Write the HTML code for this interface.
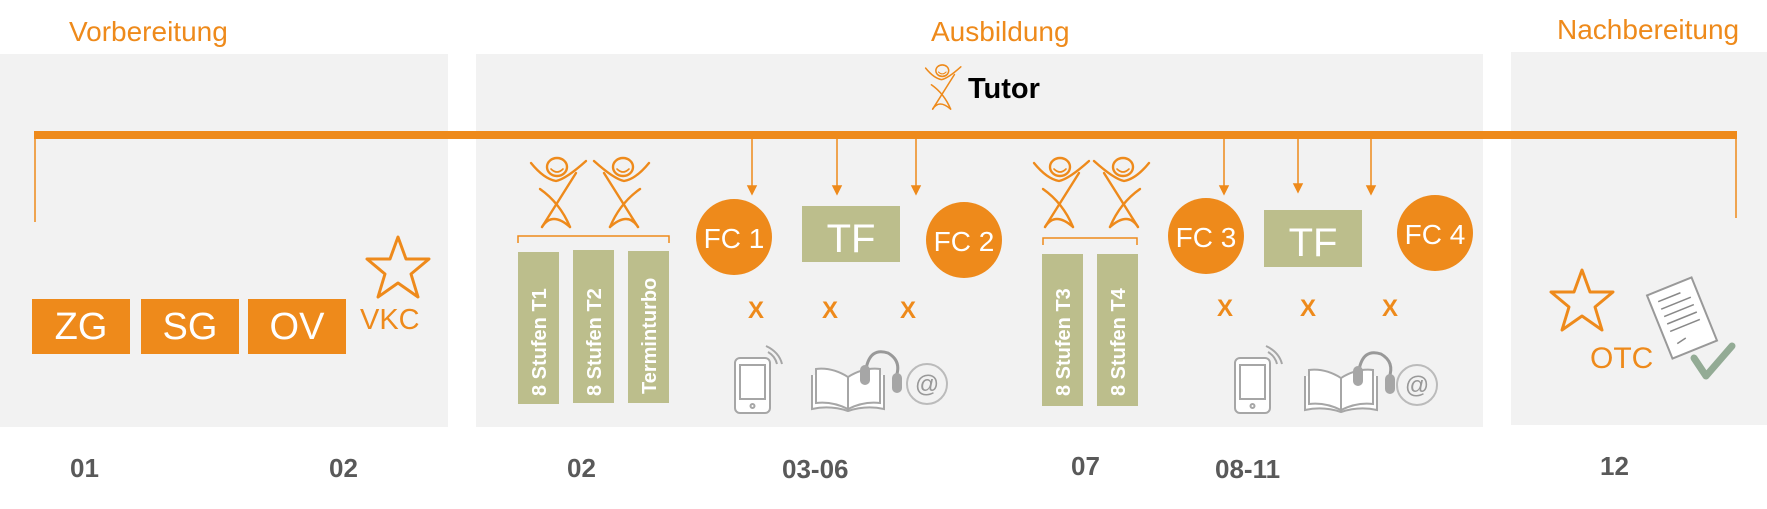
<!DOCTYPE html>
<html><head><meta charset="utf-8"><style>
html,body{margin:0;padding:0;background:#fff;}
svg{display:block;}
text{font-family:"Liberation Sans",sans-serif;}
</style></head><body>
<svg width="1767" height="509" viewBox="0 0 1767 509" xmlns="http://www.w3.org/2000/svg">
<defs>
<g id="fig" fill="none" stroke="#ee8a1b" stroke-width="2.4" stroke-linecap="round">
  <ellipse cx="27" cy="12" rx="10" ry="9"/>
  <path d="M21 14 Q27 20 33 14" stroke-width="1.6"/>
  <path d="M1 8 Q14 24 26 26 Q36 24 56 6"/>
  <path d="M46 18 L12 72"/>
  <path d="M10 34 Q30 48 40 72"/>
  <path d="M12 72 Q22 56 40 72"/>
</g>
<g id="phone" fill="none" stroke="#a6a6a6" stroke-width="2">
  <rect x="0" y="8" width="35" height="55" rx="5" fill="#fff"/>
  <rect x="5" y="15" width="25" height="34" fill="#fff"/>
  <circle cx="17.5" cy="56" r="2"/>
  <path d="M33 2 Q40 6 42 14" /><path d="M31 -4 Q44 2 47 14"/>
</g>
<g id="book" fill="#fff" stroke="#a6a6a6" stroke-width="2">
  <path d="M2 18 L2 52 Q20 48 38 54 Q56 48 74 52 L74 18"/>
  <path d="M6 12 Q22 10 38 20 L38 52 Q22 44 6 46 Z"/>
  <path d="M70 12 Q54 10 38 20 L38 52 Q54 44 70 46 Z"/>
  <path d="M56 12 Q60 -10 78 -4 Q92 4 86 20" fill="none" stroke="#999" stroke-width="3"/>
  <rect x="50" y="8" width="10" height="20" rx="5" fill="#a6a6a6" stroke="none"/>
  <rect x="82" y="16" width="10" height="20" rx="5" fill="#a6a6a6" stroke="none"/>
</g>
<g id="at">
  <circle cx="22" cy="20" r="20" fill="none" stroke="#bbb" stroke-width="2"/>
  <text x="22" y="28" font-size="24" fill="#999" text-anchor="middle">@</text>
</g>
<path id="star" d="M31 0 L39 22 L62 22 L44 37 L51 60 L31 46 L11 60 L18 37 L0 22 L23 22 Z" fill="none" stroke="#ee8a1b" stroke-width="3" stroke-linejoin="round"/>
</defs>

<rect x="0" y="54" width="448" height="373" fill="#f2f2f2"/>
<rect x="476" y="54" width="1007" height="373" fill="#f2f2f2"/>
<rect x="1511" y="52" width="256" height="373" fill="#f2f2f2"/>

<text x="69" y="41" font-size="28" fill="#ee8a1b">Vorbereitung</text>
<text x="931" y="41" font-size="28" fill="#ee8a1b">Ausbildung</text>
<text x="1557" y="39" font-size="28" fill="#ee8a1b">Nachbereitung</text>

<g transform="translate(925,63) scale(0.64)"><use href="#fig"/></g>
<text x="968" y="98" font-size="29" font-weight="bold" fill="#000">Tutor</text>

<rect x="34" y="131" width="1703" height="8" fill="#ee8a1b"/>
<line x1="35" y1="139" x2="35" y2="222" stroke="#ee8a1b" stroke-width="1.5"/>
<line x1="1736" y1="139" x2="1736" y2="218" stroke="#ee8a1b" stroke-width="1.5"/>

<g stroke="#ee8a1b" stroke-width="1.5" fill="#ee8a1b">
<line x1="752" y1="139" x2="752" y2="188"/><path d="M748 186 L756 186 L752 194 Z"/>
<line x1="837" y1="139" x2="837" y2="188"/><path d="M833 186 L841 186 L837 194 Z"/>
<line x1="916" y1="139" x2="916" y2="188"/><path d="M912 186 L920 186 L916 194 Z"/>
<line x1="1224" y1="139" x2="1224" y2="188"/><path d="M1220 186 L1228 186 L1224 194 Z"/>
<line x1="1298" y1="139" x2="1298" y2="186"/><path d="M1294 184 L1302 184 L1298 192 Z"/>
<line x1="1371" y1="139" x2="1371" y2="188"/><path d="M1367 186 L1375 186 L1371 194 Z"/>
</g>

<rect x="32" y="299" width="98" height="55" fill="#ee8a1b"/>
<rect x="141" y="299" width="98" height="55" fill="#ee8a1b"/>
<rect x="248" y="299" width="98" height="55" fill="#ee8a1b"/>
<g font-size="38" fill="#fff" text-anchor="middle">
<text x="81" y="339">ZG</text><text x="190" y="339">SG</text><text x="297" y="339">OV</text>
</g>
<g transform="translate(367,237)"><use href="#star"/></g>
<text x="360" y="329" font-size="29" fill="#ee8a1b">VKC</text>

<g transform="translate(530,155)"><use href="#fig"/></g>
<g transform="translate(650,155) scale(-1,1)"><use href="#fig"/></g>
<path d="M518 243 L518 236 L669 236 L669 243" fill="none" stroke="#ee8a1b" stroke-width="1.5"/>
<rect x="518" y="252" width="41" height="152" fill="#bcbe8c"/>
<rect x="573" y="250" width="41" height="153" fill="#bcbe8c"/>
<rect x="628" y="251" width="41" height="152" fill="#bcbe8c"/>
<g font-size="20" font-weight="bold" fill="#fff">
<text transform="translate(546,396) rotate(-90)">8 Stufen T1</text>
<text transform="translate(601,396) rotate(-90)">8 Stufen T2</text>
<text transform="translate(656,394) rotate(-90)">Terminturbo</text>
</g>

<circle cx="734" cy="237" r="38" fill="#ee8a1b"/>
<rect x="802" y="206" width="98" height="56" fill="#bcbe8c"/>
<circle cx="964" cy="240" r="38" fill="#ee8a1b"/>
<g fill="#fff" text-anchor="middle">
<text x="734" y="248" font-size="28">FC 1</text>
<text x="851" y="252" font-size="40">TF</text>
<text x="964" y="251" font-size="28">FC 2</text>
</g>
<g font-size="24" font-weight="bold" fill="#ee8a1b" text-anchor="middle">
<text x="756" y="318">X</text><text x="830" y="318">X</text><text x="908" y="318">X</text>
</g>
<g transform="translate(735,350)"><use href="#phone"/></g>
<g transform="translate(810,357)"><use href="#book"/></g>
<g transform="translate(905,364)"><use href="#at"/></g>

<g transform="translate(1033,155)"><use href="#fig"/></g>
<g transform="translate(1150,155) scale(-1,1)"><use href="#fig"/></g>
<path d="M1043 245 L1043 238 L1137 238 L1137 245" fill="none" stroke="#ee8a1b" stroke-width="1.5"/>
<rect x="1042" y="254" width="41" height="152" fill="#bcbe8c"/>
<rect x="1097" y="254" width="41" height="152" fill="#bcbe8c"/>
<g font-size="20" font-weight="bold" fill="#fff">
<text transform="translate(1070,396) rotate(-90)">8 Stufen T3</text>
<text transform="translate(1125,396) rotate(-90)">8 Stufen T4</text>
</g>

<circle cx="1206" cy="236" r="38" fill="#ee8a1b"/>
<rect x="1264" y="210" width="98" height="57" fill="#bcbe8c"/>
<circle cx="1435" cy="233" r="38" fill="#ee8a1b"/>
<g fill="#fff" text-anchor="middle">
<text x="1206" y="247" font-size="28">FC 3</text>
<text x="1313" y="256" font-size="40">TF</text>
<text x="1435" y="244" font-size="28">FC 4</text>
</g>
<g font-size="24" font-weight="bold" fill="#ee8a1b" text-anchor="middle">
<text x="1225" y="316">X</text><text x="1308" y="316">X</text><text x="1390" y="316">X</text>
</g>
<g transform="translate(1235,350)"><use href="#phone"/></g>
<g transform="translate(1303,358)"><use href="#book"/></g>
<g transform="translate(1395,365)"><use href="#at"/></g>

<g transform="translate(1551,270)"><use href="#star"/></g>
<text x="1590" y="368" font-size="30" fill="#ee8a1b">OTC</text>
<g transform="translate(1682,318) rotate(-22)">
  <rect x="-24" y="-34" width="48" height="68" fill="#fff" stroke="#999" stroke-width="2"/>
  <g stroke="#888" stroke-width="1.5">
  <line x1="-16" y1="-24" x2="8" y2="-24"/><line x1="-16" y1="-16" x2="16" y2="-16"/>
  <line x1="-16" y1="-8" x2="16" y2="-8"/><line x1="-16" y1="0" x2="16" y2="0"/>
  <line x1="-16" y1="8" x2="16" y2="8"/><line x1="-14" y1="22" x2="-4" y2="20"/>
  </g>
</g>
<path d="M1694 358 L1706 376 L1732 346" fill="none" stroke="#93ab95" stroke-width="7" stroke-linecap="round" stroke-linejoin="round"/>

<g font-size="26" font-weight="bold" fill="#595959">
<text x="70" y="477">01</text>
<text x="329" y="477">02</text>
<text x="567" y="477">02</text>
<text x="782" y="478">03-06</text>
<text x="1071" y="475">07</text>
<text x="1215" y="478">08-11</text>
<text x="1600" y="475">12</text>
</g>
</svg>
</body></html>
